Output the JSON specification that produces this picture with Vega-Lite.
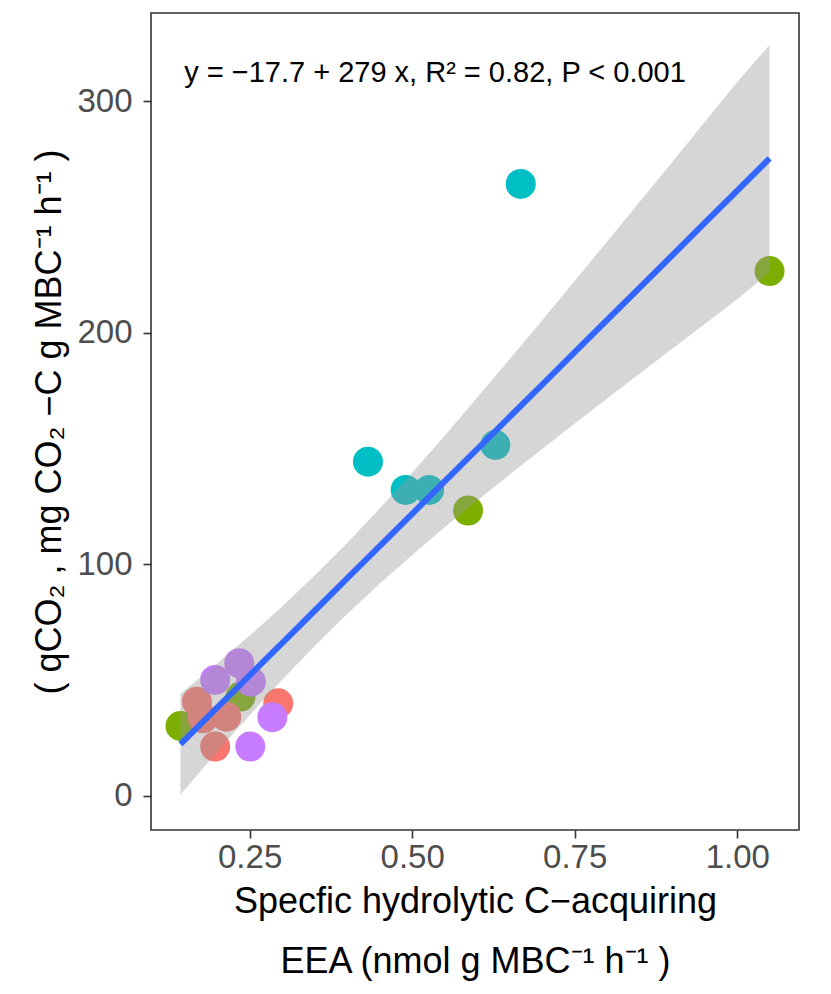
{
  "$schema": "https://vega.github.io/schema/vega-lite/v6.json",
  "width": 648,
  "height": 817,
  "autosize": {"type": "none"},
  "padding": {"left": 151, "top": 13, "right": 32, "bottom": 164},
  "background": "white",
  "config": {
    "view": {"stroke": "#333333", "strokeWidth": 1.6},
    "font": "Liberation Sans",
    "axis": {
      "grid": false,
      "domain": false,
      "tickColor": "#333333",
      "tickWidth": 1.6,
      "tickSize": 8,
      "labelColor": "#4D4D4D",
      "labelFontSize": 33,
      "labelFont": "Liberation Sans",
      "titleFont": "Liberation Sans",
      "titleFontSize": 36,
      "titleFontWeight": "normal",
      "titleColor": "black"
    }
  },
  "datasets": {
    "points": [
      {"x": 0.1436, "y": 30.2, "group": "B"},
      {"x": 0.236, "y": 42.9, "group": "B"},
      {"x": 0.586, "y": 123.2, "group": "B"},
      {"x": 1.0497, "y": 226.6, "group": "B"},
      {"x": 0.169, "y": 40.7, "group": "A"},
      {"x": 0.178, "y": 33.5, "group": "A"},
      {"x": 0.214, "y": 34.2, "group": "A"},
      {"x": 0.197, "y": 21.3, "group": "A"},
      {"x": 0.294, "y": 40.0, "group": "A"},
      {"x": 0.197, "y": 50.1, "group": "D"},
      {"x": 0.234, "y": 57.3, "group": "D"},
      {"x": 0.252, "y": 49.3, "group": "D"},
      {"x": 0.285, "y": 34.0, "group": "D"},
      {"x": 0.251, "y": 21.3, "group": "D"},
      {"x": 0.432, "y": 144.3, "group": "C"},
      {"x": 0.490, "y": 132.1, "group": "C"},
      {"x": 0.526, "y": 132.1, "group": "C"},
      {"x": 0.628, "y": 151.5, "group": "C"},
      {"x": 0.667, "y": 264.2, "group": "C"}
    ],
    "band": [
      {"x": 0.1436, "fit": 22.36, "lo": 0.6, "hi": 44.1},
      {"x": 0.175, "fit": 31.13, "lo": 10.9, "hi": 51.4},
      {"x": 0.2, "fit": 38.1, "lo": 19.0, "hi": 57.2},
      {"x": 0.225, "fit": 45.08, "lo": 26.97, "hi": 63.19},
      {"x": 0.25, "fit": 52.05, "lo": 34.85, "hi": 69.25},
      {"x": 0.275, "fit": 59.03, "lo": 42.58, "hi": 75.47},
      {"x": 0.3, "fit": 66.0, "lo": 50.2, "hi": 81.8},
      {"x": 0.35, "fit": 79.95, "lo": 64.77, "hi": 95.13},
      {"x": 0.4, "fit": 93.9, "lo": 78.59, "hi": 109.21},
      {"x": 0.45, "fit": 107.85, "lo": 91.65, "hi": 124.05},
      {"x": 0.5, "fit": 121.8, "lo": 104.03, "hi": 139.57},
      {"x": 0.55, "fit": 135.75, "lo": 115.95, "hi": 155.55},
      {"x": 0.6, "fit": 149.7, "lo": 127.44, "hi": 171.96},
      {"x": 0.65, "fit": 163.65, "lo": 138.75, "hi": 188.55},
      {"x": 0.7, "fit": 177.6, "lo": 149.79, "hi": 205.41},
      {"x": 0.75, "fit": 191.55, "lo": 160.75, "hi": 222.35},
      {"x": 0.8, "fit": 205.5, "lo": 171.59, "hi": 239.41},
      {"x": 0.85, "fit": 219.45, "lo": 182.35, "hi": 256.55},
      {"x": 0.9, "fit": 233.4, "lo": 193.1, "hi": 273.7},
      {"x": 0.95, "fit": 247.35, "lo": 203.75, "hi": 290.95},
      {"x": 1.0, "fit": 261.3, "lo": 214.43, "hi": 308.17},
      {"x": 1.0497, "fit": 275.2, "lo": 226.2, "hi": 324.2}
    ],
    "note": [
      {"x": 0.1493, "y": 312, "label": "y = −17.7 + 279 x, R² = 0.82, P < 0.001"}
    ]
  },
  "layer": [
    {
      "data": {"name": "points"},
      "mark": {"type": "circle", "size": 900, "opacity": 1},
      "encoding": {
        "x": {
          "field": "x", "type": "quantitative",
          "scale": {"domain": [0.0983, 1.095], "nice": false, "zero": false},
          "axis": {"values": [0.25, 0.5, 0.75, 1.0], "format": ".2f", "labelPadding": 3,
                   "title": ["Specfic hydrolytic C−acquiring", "EEA (nmol g  MBC⁻¹ h⁻¹ )"],
                   "titleLineHeight": 60, "titlePadding": 10}
        },
        "y": {
          "field": "y", "type": "quantitative",
          "scale": {"domain": [-14.7, 338], "nice": false, "zero": false},
          "axis": {"values": [0, 100, 200, 300], "labelPadding": 11,
                   "title": "( qCO₂ , mg  CO₂ −C g  MBC⁻¹ h⁻¹ )", "titlePadding": 8}
        },
        "color": {
          "field": "group", "type": "nominal",
          "scale": {"domain": ["A", "B", "C", "D"], "range": ["#F8766D", "#7CAE00", "#00BFC4", "#C77CFF"]},
          "legend": null
        }
      }
    },
    {
      "data": {"name": "band"},
      "mark": {"type": "area", "color": "#999999", "opacity": 0.4},
      "encoding": {
        "x": {"field": "x", "type": "quantitative"},
        "y": {"field": "lo", "type": "quantitative"},
        "y2": {"field": "hi"}
      }
    },
    {
      "data": {"name": "band"},
      "mark": {"type": "line", "color": "#3366FF", "strokeWidth": 6},
      "encoding": {
        "x": {"field": "x", "type": "quantitative"},
        "y": {"field": "fit", "type": "quantitative"}
      }
    },
    {
      "data": {"name": "note"},
      "mark": {"type": "text", "align": "left", "baseline": "middle", "fontSize": 29, "font": "Liberation Sans", "color": "black"},
      "encoding": {
        "x": {"field": "x", "type": "quantitative"},
        "y": {"field": "y", "type": "quantitative"},
        "text": {"field": "label"}
      }
    }
  ]
}
